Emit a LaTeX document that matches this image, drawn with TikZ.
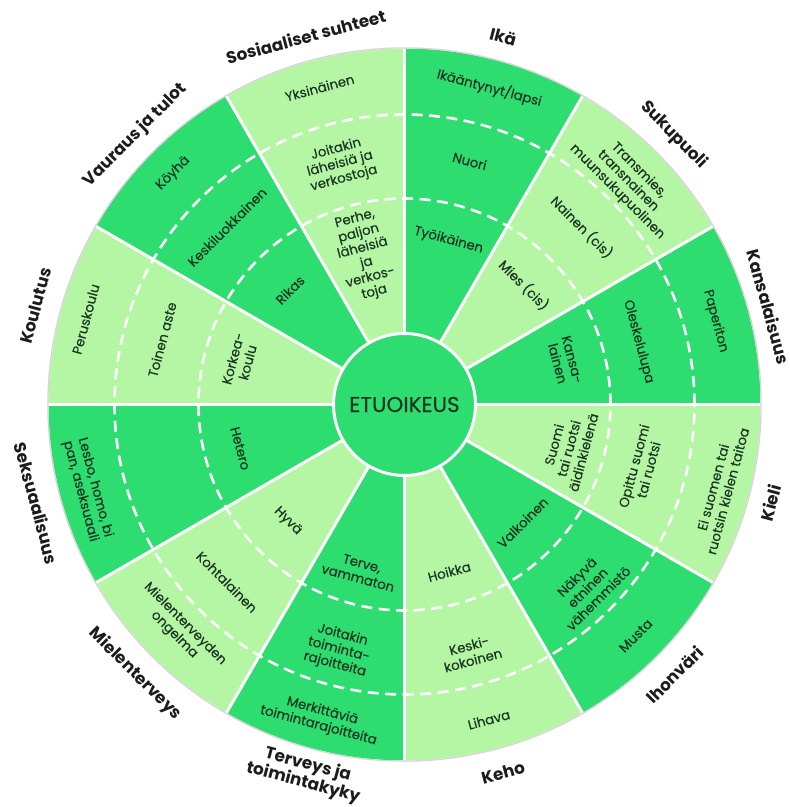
\documentclass[tikz,border=0pt]{standalone}
\usepackage{fontspec}
\setmainfont{Poppins}
\definecolor{dk}{HTML}{2EDD70}
\definecolor{lt}{HTML}{B4F6A4}
\definecolor{txt}{HTML}{1A3522}
\definecolor{lab}{HTML}{1C1C1C}
\definecolor{rim}{HTML}{DCD2DC}
\begin{document}
\begin{tikzpicture}[x=1pt,y=1pt,
  inn/.style={font=\fontsize{13.3}{15.2}\selectfont\addfontfeatures{FakeBold=0.3}, text=txt, align=center, inner sep=0pt},
  lbl/.style={font=\bfseries\fontsize{16.8}{18.5}\selectfont, text=lab, align=center, inner sep=0pt},
  sep/.style={white, line width=3pt},
  dsh/.style={white, line width=2.6pt, dash pattern=on 11pt off 6.5pt}]
\useasboundingbox (-404.5,-402.5) rectangle (385.5,404.5);
\fill[white] (-404.5,-402.5) rectangle (385.5,404.5);
% sectors
\foreach \a/\c in {60/dk,30/lt,0/dk,-30/lt,-60/dk,-90/lt,-120/dk,-150/lt,-180/dk,150/lt,120/dk,90/lt}{
  \fill[\c] (0,0) -- (\a:356) arc[start angle=\a, end angle=\a+30, radius=356] -- cycle;
}
\draw[dsh] (0,0) circle[radius=290];
\draw[dsh] (0,0) circle[radius=206];
\foreach \a in {0,30,...,330}{ \draw[sep] (0,0) -- (\a:356); }
\draw[rim, line width=1.3pt] (0,0) circle[radius=356.6];
\node[circle, fill=dk, draw=white, line width=3pt, minimum size=142pt, inner sep=0pt,
  font=\fontsize{21.5}{23}\selectfont\addfontfeatures{FakeBold=0.2}, text=txt] (etu) at (0,0) {ETUOIKEUS};
% Ikä
\node[inn, rotate=-15] (ika1) at (75:328) {Ikääntynyt/lapsi};
\node[inn, rotate=-15] (ika2) at (75:252) {Nuori};
\node[inn, rotate=-15] (ika3) at (75:170) {Työikäinen};
\node[lbl, rotate=-15] (ikaL) at (75:381) {Ikä};
% Sukupuoli
\node[inn, rotate=-45] (suk1) at (45:316) {Transmies,\\transnainen\\muunsukupuolinen};
\node[inn, rotate=-45] (suk2) at (45:251) {Nainen (cis)};
\node[inn, rotate=-45] (suk3) at (45:169) {Mies (cis)};
\node[lbl, rotate=-45] (sukL) at (45:381) {Sukupuoli};
% Kansalaisuus
\node[inn, rotate=-75] (kan1) at (15:322) {Paperiton};
\node[inn, rotate=-75] (kan2) at (15:242) {Oleskelulupa};
\node[inn, rotate=-75] (kan3) at (15:166) {Kansa-\\lainen};
\node[lbl, rotate=-75] (kanL) at (15:377) {Kansalaisuus};
% Kieli
\node[inn, rotate=75] (kie1) at (-15:327) {Ei suomen tai\\ruotsin kielen taitoa};
\node[inn, rotate=75] (kie2) at (-15:245) {Opittu suomi\\tai ruotsi};
\node[inn, rotate=75] (kie3) at (-15:170) {Suomi\\tai ruotsi\\äidinkielenä};
\node[lbl, rotate=75] (kieL) at (-15:379) {Kieli};
% Ihonväri
\node[inn, rotate=45] (iho1) at (-45:327) {Musta};
\node[inn, rotate=45] (iho2) at (-45:259) {Näkyvä\\etninen\\vähemmistö};
\node[inn, rotate=45] (iho3) at (-45:167) {Valkoinen};
\node[lbl, rotate=45] (ihoL) at (-45:382) {Ihonväri};
% Keho
\node[inn, rotate=15] (keh1) at (-75:326) {Lihava};
\node[inn, rotate=15] (keh2) at (-75:257) {Keski-\\kokoinen};
\node[inn, rotate=15] (keh3) at (-75:173) {Hoikka};
\node[lbl, rotate=15] (kehL) at (-75:381) {Keho};
% Terveys
\node[inn, rotate=-15] (ter1) at (-105:325) {Merkittäviä\\toimintarajoitteita};
\node[inn, rotate=-15] (ter2) at (-105:254) {Joitakin\\toiminta-\\rajoitteita};
\node[inn, rotate=-15] (ter3) at (-105:172) {Terve,\\vammaton};
\node[lbl, rotate=-15] (terL) at (-105:382.5) {Terveys ja\\toimintakyky};
% Mielenterveys
\node[inn, rotate=-45] (mie1) at (-135:318) {Mielenterveyden\\ongelma};
\node[inn, rotate=-45] (mie2) at (-135:251) {Kohtalainen};
\node[inn, rotate=-45] (mie3) at (-135:165) {Hyvä};
\node[lbl, rotate=-45] (mieL) at (-135:381) {Mielenterveys};
% Seksuaalisuus
\node[inn, rotate=-75] (sek1) at (-165:328) {Lesbo, homo, bi\\pan, aseksuaali};
\node[inn, rotate=-75] (sek3) at (-165:170) {Hetero};
\node[lbl, rotate=-75] (sekL) at (-165:381) {Seksuaalisuus};
% Koulutus
\node[inn, rotate=75] (kou1) at (165:330) {Peruskoulu};
\node[inn, rotate=75] (kou2) at (165:251) {Toinen aste};
\node[inn, rotate=75] (kou3) at (165:170) {Korkea-\\koulu};
\node[lbl, rotate=75] (kouL) at (165:382) {Koulutus};
% Vauraus
\node[inn, rotate=45] (vau1) at (135:327) {Köyhä};
\node[inn, rotate=45] (vau2) at (135:251) {Keskiluokkainen};
\node[inn, rotate=45] (vau3) at (135:162) {Rikas};
\node[lbl, rotate=45] (vauL) at (135:381) {Vauraus ja tulot};
% Sosiaaliset suhteet
\node[inn, rotate=15] (sos1) at (105:328) {Yksinäinen};
\node[inn, rotate=15] (sos2) at (105:249) {Joitakin\\läheisiä ja\\verkostoja};
\node[inn, rotate=15] (sos3) at (105:154) {Perhe,\\paljon\\läheisiä\\ja\\verkos-\\toja};
\node[lbl, rotate=15] (sosL) at (105:381) {Sosiaaliset suhteet};
\end{tikzpicture}
\end{document}
